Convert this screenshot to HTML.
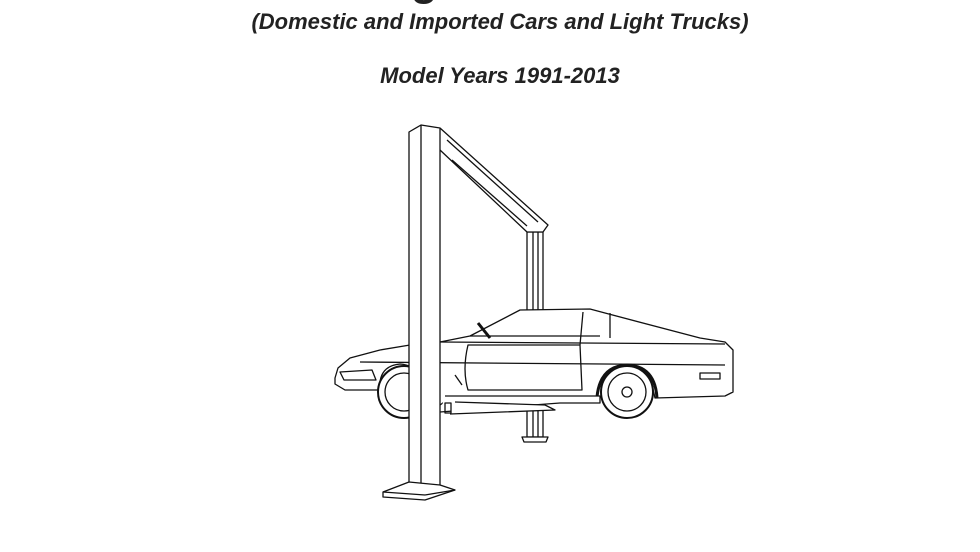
<!DOCTYPE html>
<html><head><style>
body{margin:0;width:980px;height:552px;background:#fff;overflow:hidden;position:relative;font-family:"Liberation Sans",sans-serif}
.t{position:absolute;left:10px;width:980px;text-align:center;font-weight:bold;font-style:italic;color:#222}
</style></head><body>
<div class="t" style="top:-44px;font-size:44px;font-style:normal">Lifting Point Guide</div>
<div class="t" style="top:9px;font-size:22px">(Domestic and Imported Cars and Light Trucks)</div>
<div class="t" style="top:63px;font-size:22px">Model Years 1991-2013</div>
<svg width="980" height="552" style="position:absolute;left:0;top:0" fill="none" stroke="#111" stroke-width="1.3" stroke-linejoin="round">
<rect x="527" y="232" width="16" height="205" fill="#fff"/>
<line x1="533" y1="232" x2="533" y2="437"/><line x1="538" y1="232" x2="538" y2="437"/>
<path d="M522 437 L548 437 L546 442 L524 442Z" fill="#fff"/>
<path d="M440 128 L548 225 L543 232 L527 232 L440 150" fill="#fff"/>
<line x1="447" y1="140" x2="538" y2="222"/><line x1="452" y1="160" x2="527" y2="226"/>
<path d="M335 378 L338 368 L350 358 L380 350 L410 345 L440 342 L470 336 L520 310 L590 309 L605 313 L700 338 L725 342 L733 350 L733 392 L725 396 L655 398 Q650 370 627 368 Q600 368 597 397 L450 398 L440 405 L420 405 Q428 366 400 364 Q378 366 380 390 L345 390 L335 384Z" fill="#fff"/>
<line x1="440" y1="342" x2="725" y2="344"/>
<line x1="360" y1="362" x2="725" y2="365"/>
<path d="M470 336 L600 336"/>
<path d="M468 345 L580 345 L582 390 L468 390 Q462 370 468 345Z"/>
<path d="M580 345 L583 312"/>
<line x1="610" y1="313" x2="610" y2="338"/>
<path d="M340 372 L372 370 L376 380 L344 380Z"/>
<line x1="455" y1="375" x2="462" y2="385"/>
<rect x="700" y="373" width="20" height="6"/>
<path d="M478 323 L490 338" stroke-width="3"/>
<circle cx="627" cy="392" r="26" fill="#fff" stroke-width="2"/>
<circle cx="627" cy="392" r="19"/><circle cx="627" cy="392" r="5"/>
<circle cx="404" cy="392" r="26" fill="#fff" stroke-width="2"/>
<circle cx="404" cy="392" r="19"/>
<path d="M597 397 Q600 366 627 365 Q655 366 657 398" stroke-width="3"/>
<path d="M445 396 L600 396 L600 403 L560 403 L440 412" fill="#fff"/>
<path d="M455 402 L545 405 L555 410 L450 414" fill="#fff"/>
<rect x="445" y="403" width="6" height="10"/>
<path d="M409 132 L421 125 L440 128 L440 493 L421 497 L409 492Z" fill="#fff"/>
<line x1="421" y1="125" x2="421" y2="497"/>
<path d="M383 492 L409 482 L440 485 L455 490 L425 500 L383 497Z" fill="#fff"/>
<line x1="383" y1="492" x2="425" y2="495"/><line x1="425" y1="495" x2="455" y2="490"/>
</svg>
</body></html>
